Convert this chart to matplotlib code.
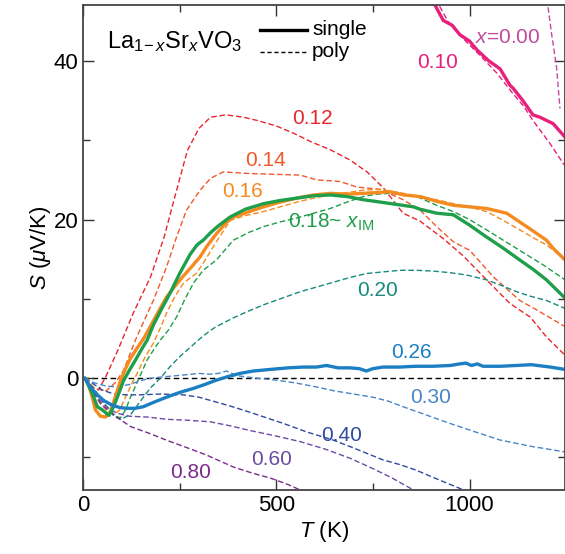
import matplotlib
matplotlib.use("Agg")
import matplotlib.pyplot as plt
from matplotlib.ticker import MultipleLocator

plt.rcParams['font.family'] = ['Liberation Sans', 'DejaVu Sans']
plt.rcParams['mathtext.fontset'] = 'custom'
plt.rcParams['mathtext.rm'] = 'Liberation Sans'
plt.rcParams['mathtext.it'] = 'Liberation Sans:italic'
plt.rcParams['mathtext.bf'] = 'Liberation Sans:bold'

# ---------------- data (T in K, S in uV/K) ----------------
T_000p = [1200, 1212, 1225, 1234]
S_000p = [48.0, 43.5, 39.3, 34.0]

T_010s = [900, 932, 955, 975, 1000, 1019, 1050, 1079, 1105, 1112, 1138, 1164, 1182, 1216, 1247]
S_010s = [48.0, 45.1, 44.5, 43.3, 42.5, 41.4, 40.0, 39.0, 36.9, 36.6, 35.0, 33.2, 32.9, 32.1, 30.4]
T_010p = [910, 945, 990, 1027, 1070, 1112, 1140, 1164, 1208, 1242, 1250]
S_010p = [48.0, 44.9, 42.5, 40.7, 38.5, 35.9, 34.3, 32.5, 29.6, 27.1, 26.6]

T_012p = [5, 20, 40, 60, 90, 130, 175, 210, 235, 270, 300, 330, 370, 415, 450, 500, 544, 590,
          640, 691, 735, 777, 828, 872, 932, 984, 1044, 1105, 1157, 1199, 1247]
S_012p = [0, -1.0, -1.5, 0.3, 3.5, 8.2, 12.8, 17.8, 22.4, 28.7, 31.5, 32.9, 33.2, 32.9, 32.5,
          31.8, 30.9, 29.8, 28.8, 27.5, 26.0, 24.0, 20.8, 19.8, 17.6, 15.4, 12.4, 9.4, 7.7, 5.2, 2.9]

T_014p = [5, 30, 60, 85, 105, 139, 182, 216, 242, 268, 303, 330, 363, 433, 500, 562, 605, 665,
          708, 769, 828, 872, 915, 958, 1001, 1061, 1130, 1174, 1247]
S_014p = [0, -1.3, -1.6, -0.5, 1.0, 5.2, 9.8, 14.0, 17.8, 21.2, 23.7, 25.2, 26.0, 25.8, 25.7,
          25.6, 25.0, 24.8, 24.1, 23.8, 22.5, 21.2, 19.1, 17.2, 16.1, 12.8, 9.8, 8.6, 6.5]

T_016s = [5, 11, 24, 32, 45, 58, 71, 84, 97, 110, 123, 140, 157, 174, 195, 216, 238, 260, 282,
          303, 320, 345, 370, 389, 430, 467, 510, 553, 597, 640, 683, 725, 760, 795, 830, 872,
          915, 958, 1000, 1044, 1096, 1148, 1199, 1216, 1247]
S_016s = [0, -0.3, -2.4, -4.0, -4.8, -4.9, -4.2, -2.3, -0.3, 1.2, 2.5, 3.8, 5.0, 6.5, 8.4, 10.2,
          11.6, 12.9, 14.1, 15.3, 16.6, 18.2, 19.6, 20.3, 21.0, 21.6, 22.2, 22.7, 23.1, 23.3,
          23.2, 23.3, 23.4, 23.5, 23.1, 22.9, 22.3, 21.8, 21.6, 21.4, 20.8, 19.1, 17.4, 16.4, 14.9]
T_016p = [5, 20, 40, 60, 80, 95, 110, 125, 140, 160, 182, 200, 216, 238, 260, 293, 311, 345,
          381, 420, 467, 510, 553, 597, 640, 683, 725, 769, 830, 872, 924, 958, 1000, 1044,
          1087, 1130, 1165, 1199, 1247]
S_016p = [0, -1.0, -2.8, -4.0, -4.6, -4.0, -2.4, -0.8, 0.6, 2.6, 4.4, 6.3, 8.2, 10.3, 12.0,
          13.2, 14.5, 17.2, 19.9, 20.5, 21.0, 21.6, 22.2, 22.7, 23.1, 23.4, 23.7, 23.8, 23.3,
          22.9, 22.4, 22.0, 21.6, 21.0, 19.9, 18.7, 17.7, 16.8, 15.0]

T_018s = [5, 24, 37, 50, 67, 79, 92, 105, 120, 136, 151, 166, 182, 203, 225, 250, 277, 295,
          311, 329, 350, 380, 420, 467, 510, 553, 597, 640, 683, 725, 769, 812, 855, 872, 915,
          958, 1000, 1044, 1087, 1130, 1165, 1199, 1247]
S_018s = [0, -1.9, -3.6, -4.0, -4.7, -3.6, -2.0, -0.3, 1.0, 2.3, 3.6, 4.8, 6.7, 8.7, 10.7,
          13.2, 15.6, 16.8, 17.4, 18.3, 19.2, 20.3, 21.3, 22.0, 22.4, 22.7, 23.0, 23.1, 22.9,
          22.5, 22.2, 21.9, 21.6, 21.3, 20.8, 20.6, 19.3, 17.8, 16.4, 14.9, 13.7, 12.4, 10.1]
T_018p = [5, 30, 60, 85, 97, 110, 123, 145, 166, 183, 200, 220, 242, 264, 286, 311, 345, 389,
          430, 467, 510, 553, 597, 640, 683, 725, 760, 795, 830, 863, 915, 958, 1000, 1044,
          1087, 1130, 1190, 1247]
S_018p = [0, -1.5, -3.5, -4.8, -5.0, -4.0, -2.4, 0.0, 2.3, 3.6, 4.8, 6.0, 7.7, 10.0, 12.0,
          13.6, 14.9, 17.4, 18.4, 19.1, 19.7, 20.2, 20.8, 21.4, 22.2, 22.9, 23.2, 23.3, 23.1,
          22.9, 21.8, 21.0, 20.0, 18.7, 17.4, 16.1, 14.3, 12.4]

T_020p = [5, 30, 60, 80, 97, 123, 150, 175, 200, 226, 252, 278, 303, 329, 345, 389, 430, 470,
          510, 562, 605, 648, 691, 734, 777, 820, 863, 906, 950, 993, 1044, 1087, 1122, 1160,
          1199, 1247]
S_020p = [0, -1.5, -3.5, -4.8, -5.2, -4.6, -2.8, -1.2, 0.0, 1.5, 2.8, 3.9, 5.0, 6.0, 6.5,
          7.6, 8.5, 9.3, 10.0, 10.9, 11.5, 12.1, 12.7, 13.2, 13.4, 13.6, 13.6, 13.5, 13.3,
          13.0, 12.4, 11.6, 10.9, 10.3, 9.8, 8.8]

T_026s = [5, 20, 35, 53, 75, 95, 112, 135, 156, 185, 216, 250, 285, 315, 345, 375, 406, 440,
          484, 530, 570, 604, 630, 660, 690, 715, 733, 750, 776, 820, 860, 905, 950, 975, 991,
          1005, 1020, 1035, 1080, 1121, 1160, 1209, 1247]
S_026s = [0, -1.2, -2.0, -2.8, -3.4, -3.7, -3.8, -3.8, -3.6, -3.0, -2.4, -1.8, -1.3, -0.8,
          -0.25, 0.2, 0.6, 0.9, 1.1, 1.3, 1.4, 1.4, 1.6, 1.3, 1.3, 1.2, 0.9, 1.2, 1.4, 1.4, 1.5,
          1.5, 1.6, 1.8, 1.9, 1.6, 1.8, 1.5, 1.5, 1.6, 1.7, 1.4, 1.1]

T_030p = [5, 30, 60, 87, 120, 150, 174, 215, 260, 300, 329, 350, 371, 400, 450, 500, 550, 603,
          650, 700, 750, 790, 828, 880, 949, 1010, 1079, 1160, 1247]
S_030p = [0, -0.6, -1.0, -1.1, -0.8, -0.3, 0.0, 0.2, 0.4, 0.6, 0.5, 0.6, 0.9, 0.3, 0.0,
          -0.25, -0.6, -1.1, -1.6, -2.0, -2.4, -2.9, -3.6, -4.5, -5.7, -6.7, -7.8, -8.6, -9.3]

T_040p = [5, 20, 50, 80, 112, 150, 200, 260, 300, 329, 380, 432, 475, 518, 580, 647, 700,
          776, 820, 862, 920, 975, 1010]
S_040p = [0, -0.5, -1.5, -2.0, -2.1, -2.1, -2.0, -2.1, -2.4, -2.8, -3.5, -4.3, -5.0, -5.7,
          -6.8, -7.8, -8.8, -10.3, -10.9, -11.6, -12.8, -13.9, -14.6]

T_060p = [5, 27, 45, 61, 87, 120, 166, 220, 269, 329, 380, 432, 500, 562, 630, 691, 750, 800,
          855, 880]
S_060p = [0, -1.9, -2.9, -3.6, -4.4, -4.8, -4.9, -5.2, -5.3, -5.5, -6.0, -6.6, -7.3, -8.0,
          -9.0, -10.1, -11.4, -12.6, -14.1, -14.7]

T_080p = [5, 19, 45, 71, 87, 123, 174, 215, 260, 320, 389, 440, 485, 530, 562, 580]
S_080p = [0, -1.1, -3.2, -4.3, -4.9, -6.1, -7.0, -7.8, -8.6, -9.7, -11.2, -12.0, -12.6,
          -13.4, -14.1, -14.6]

labels = ["$x$=0.00", "0.10", "0.12", "0.14", "0.16", "0.18~ $x_{\\mathrm{IM}}$", "0.20",
          "0.26", "0.30", "0.40", "0.60", "0.80"]
label_T = [1100, 918, 593, 472, 412, 530, 763, 851, 898, 670, 487, 278]
label_S = [43.0, 39.8, 32.8, 27.5, 23.5, 19.7, 11.1, 3.2, -2.4, -7.2, -10.3, -11.9]

# ---------------- styles ----------------
C000 = '#c24b9f'
C010 = '#e8207c'
C012 = '#e8262c'
C014 = '#f05a2a'
C016 = '#f58a1f'
C018 = '#1f9e4b'
C020 = '#168a7c'
C026 = '#1c7fc3'
C030 = '#4a85c8'
C040 = '#2f4a9e'
C060 = '#6a4ca3'
C080 = '#7c2a8b'
label_colors = [C000, C010, C012, C014, C016, C018, C020, C026, C030, C040, C060, C080]
label_ha = ['center', 'center', 'center', 'center', 'center', 'left', 'center', 'center',
            'center', 'center', 'center', 'center']

fig = plt.figure(figsize=(5.65, 5.54), dpi=100)
ax = fig.add_axes([83 / 565, 64 / 554, 482 / 565, 485 / 554])

dash = dict(lw=1.0, ls=(0, (4, 2)))
solid = dict(lw=2.4, solid_capstyle='round')

ax.axhline(0, color='black', lw=1.0, ls=(0, (4, 2.5)), zorder=1)

ax.plot(T_000p, S_000p, color=C000, **dash)
ax.plot(T_010p, S_010p, color=C010, **dash)
ax.plot(T_010s, S_010s, color=C010, **solid)
ax.plot(T_012p, S_012p, color=C012, **dash)
ax.plot(T_014p, S_014p, color=C014, **dash)
ax.plot(T_016p, S_016p, color=C016, **dash)
ax.plot(T_018p, S_018p, color=C018, **dash)
ax.plot(T_020p, S_020p, color=C020, **dash)
ax.plot(T_030p, S_030p, color=C030, **dash)
ax.plot(T_040p, S_040p, color=C040, **dash)
ax.plot(T_060p, S_060p, color=C060, **dash)
ax.plot(T_080p, S_080p, color=C080, **dash)
ax.plot(T_016s, S_016s, color=C016, **solid)
ax.plot(T_018s, S_018s, color=C018, **solid)
ax.plot(T_026s, S_026s, color=C026, **solid)

for lab, tx, sy, c, ha in zip(labels, label_T, label_S, label_colors, label_ha):
    ax.text(tx, sy, lab, color=c, fontsize=15, ha=ha, va='center')

# legend / title block
ax.text(0.05, 0.925, r"La$_{\mathrm{1}\mathrm{\!-}x}$Sr$_x$VO$_3$", transform=ax.transAxes,
        fontsize=17, ha='left', va='center')
ax.plot([0.367, 0.465], [0.948, 0.948], transform=ax.transAxes, color='black', lw=2.4)
ax.plot([0.367, 0.465], [0.903, 0.903], transform=ax.transAxes, color='black', lw=1.0,
        ls=(0, (3, 2)))
ax.text(0.475, 0.950, "single", transform=ax.transAxes, fontsize=15, ha='left', va='center')
ax.text(0.475, 0.905, "poly", transform=ax.transAxes, fontsize=15, ha='left', va='center')

ax.set_xlim(0, 1247)
ax.set_ylim(-14.1, 47.05)
ax.xaxis.set_major_locator(MultipleLocator(500))
ax.xaxis.set_minor_locator(MultipleLocator(250))
ax.yaxis.set_major_locator(MultipleLocator(20))
ax.yaxis.set_minor_locator(MultipleLocator(10))
ax.tick_params(which='both', direction='in', top=True, right=True, labelsize=16,
               color='#333333', width=1.0)
ax.tick_params(which='major', length=8)
ax.tick_params(which='minor', length=5)
for sp in ax.spines.values():
    sp.set_color('#444444')
    sp.set_linewidth(1.3)

ax.set_xlabel(r"$T$ (K)", fontsize=16, labelpad=2)
ax.set_ylabel(r"$S$ ($\mu$V/K)", fontsize=16, labelpad=0)

fig.savefig("out.png", dpi=100)
